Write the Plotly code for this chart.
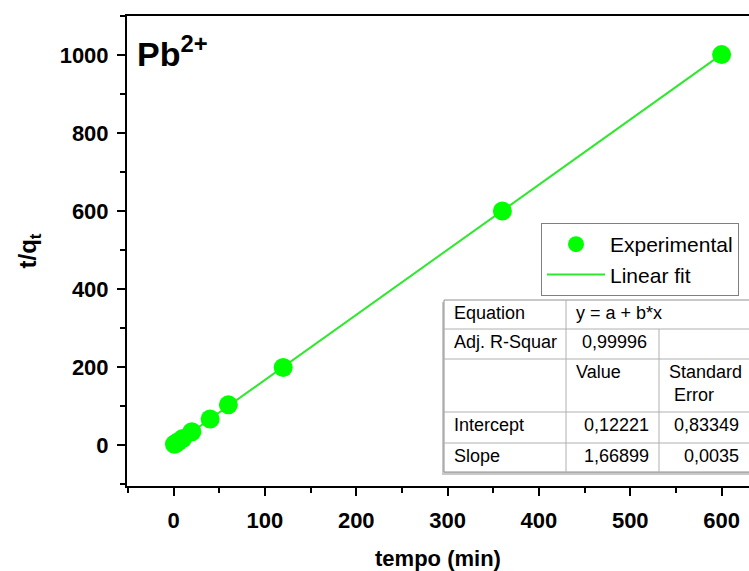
import plotly.graph_objects as go

# ---- data ----
time_min = [1, 3, 5, 10, 20, 40, 60, 120, 360, 600]
t_over_qt = [1.8, 5, 8.5, 17, 34, 67, 103, 199, 600, 1001]
intercept = 0.12221
slope = 1.66899
fit_x = [0, 600]
fit_y = [intercept + slope * x for x in fit_x]

x_ticks = [0, 100, 200, 300, 400, 500, 600]
y_ticks = [0, 200, 400, 600, 800, 1000]

table_rows = [
    ["Equation", "y = a + b*x", ""],
    ["Adj. R-Squar", "0,99996", ""],
    ["", "Value", "Standard<br> Error"],
    ["Intercept", "0,12221", "0,83349"],
    ["Slope", "1,66899", "0,0035"],
]

# ---- layout geometry (pixels) ----
W, H = 749, 571
L, T, R, B = 127, 16, 0, 85
PW = W - L - R
PH = H - T - B


def px(xp):
    return (xp - L) / PW


def py(yp):
    return (H - B - yp) / PH


FONT = "Liberation Sans"
GREEN = "#00ff00"

fig = go.Figure()
fig.add_trace(go.Scatter(
    x=fit_x, y=fit_y, mode="lines", name="Linear fit",
    line=dict(color="#2ee82e", width=2), showlegend=True, legendrank=2))
fig.add_trace(go.Scatter(
    x=time_min, y=t_over_qt, mode="markers", name="Experimental",
    marker=dict(color=GREEN, size=19, line=dict(width=0)), legendrank=1))

shapes = []
annotations = []

# table
tx0, tx1 = 444, 770
row_y = [300, 329, 359, 412, 443, 472]
col_x = [444, 566, 659, 770]
grid = "#b0b0b0"
shapes.append(dict(type="rect", xref="paper", yref="paper",
                   x0=px(tx0 - 2), x1=px(tx1), y0=py(row_y[-1] + 3), y1=py(row_y[0] + 2),
                   fillcolor="#c8c8c8", line=dict(width=0), layer="above"))
shapes.append(dict(type="rect", xref="paper", yref="paper",
                   x0=px(tx0), x1=px(tx1), y0=py(row_y[-1]), y1=py(row_y[0]),
                   fillcolor="white", line=dict(color="#909090", width=1), layer="above"))
for yy in row_y[1:-1]:
    shapes.append(dict(type="line", xref="paper", yref="paper",
                       x0=px(tx0), x1=px(tx1), y0=py(yy), y1=py(yy),
                       line=dict(color=grid, width=1), layer="above"))
shapes.append(dict(type="line", xref="paper", yref="paper",
                   x0=px(col_x[1]), x1=px(col_x[1]), y0=py(row_y[0]), y1=py(row_y[-1]),
                   line=dict(color=grid, width=1), layer="above"))
shapes.append(dict(type="line", xref="paper", yref="paper",
                   x0=px(col_x[2]), x1=px(col_x[2]), y0=py(row_y[1]), y1=py(row_y[-1]),
                   line=dict(color=grid, width=1), layer="above"))

tfont = dict(family=FONT, size=18, color="black")
for r, row in enumerate(table_rows):
    y_top = row_y[r]
    for c, txt in enumerate(row):
        if not txt:
            continue
        if r in (3, 4) and c >= 1:
            xa = col_x[c + 1] - 8 if c == 1 else 741
            anchor = "right"
        elif r == 1 and c == 1:
            xa = col_x[c] + 14
            anchor = "left"
        else:
            xa = col_x[c] + 8
            anchor = "left"
        annotations.append(dict(
            text=txt, xref="paper", yref="paper", x=px(xa), y=py(y_top + 1),
            xanchor=anchor, yanchor="top", showarrow=False, font=tfont,
            align="left"))

# Pb title
annotations.append(dict(
    text="<b>Pb<sup>2+</sup></b>", xref="paper", yref="paper",
    x=px(135), y=py(51), xanchor="left", yanchor="middle",
    showarrow=False, font=dict(family=FONT, size=34, color="black")))

bold_tick = dict(family=FONT, size=22, color="black", weight="bold")

fig.update_layout(
    width=W, height=H,
    margin=dict(l=L, r=R, t=T, b=B, autoexpand=False),
    paper_bgcolor="white", plot_bgcolor="white",
    font=dict(family=FONT, color="black"),
    shapes=shapes, annotations=annotations,
    legend=dict(x=px(541), y=py(223), xanchor="left", yanchor="top",
                bgcolor="white", bordercolor="#808080", borderwidth=1,
                font=dict(family=FONT, size=21, color="black"),
                itemwidth=58, tracegroupgap=0),
    xaxis=dict(
        range=[-51, 630], tickvals=x_ticks, ticks="outside", ticklen=8,
        tickwidth=2, tickcolor="black", showline=True, linewidth=2,
        linecolor="black", mirror=True, showgrid=False, zeroline=False,
        tickfont=bold_tick, ticklabelstandoff=6,
        minor=dict(dtick=50, tick0=0, ticks="outside", ticklen=5,
                   tickwidth=2, tickcolor="black", showgrid=False),
        title=dict(text="<b>tempo (min)</b>", standoff=20,
                   font=dict(family=FONT, size=22, color="black"))),
    yaxis=dict(
        range=[-105, 1100], tickvals=y_ticks, ticks="outside", ticklen=8,
        tickwidth=2, tickcolor="black", showline=True, linewidth=2,
        linecolor="black", mirror=False, showgrid=False, zeroline=False,
        tickfont=bold_tick, ticklabelstandoff=4,
        minor=dict(dtick=100, tick0=0, ticks="outside", ticklen=5,
                   tickwidth=2, tickcolor="black", showgrid=False),
        title=dict(text="<b>t/q<sub>t</sub></b>", standoff=16,
                   font=dict(family=FONT, size=24, color="black"))),
)

fig.write_html("out.html")
